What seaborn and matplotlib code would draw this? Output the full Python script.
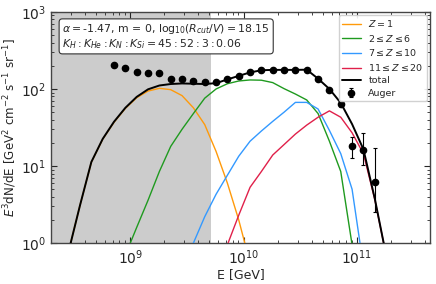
import numpy as np
import pandas as pd
import matplotlib
matplotlib.use("Agg")
import matplotlib.pyplot as plt
import seaborn as sns

# ---------------- data ----------------
auger_logE = [8.857, 8.957, 9.057, 9.157, 9.257, 9.357, 9.457, 9.557, 9.657, 9.757,
              9.857, 9.957, 10.057, 10.157, 10.257, 10.357, 10.457, 10.557, 10.657,
              10.757, 10.857, 10.957, 11.057, 11.157]
auger_flux = [207, 187, 165, 163, 160, 135, 134, 126, 122, 122,
              135, 149, 165, 177, 177, 177, 177, 178, 134,
              98, 63, 18.2, 16, 6.3]
auger_err_lo = [3, 3, 2, 2, 2, 2, 2, 2, 2, 2,
                2, 2, 2, 2, 2, 2, 3, 3, 3,
                4, 5, 5.6, 5.7, 3.8]
auger_err_hi = [3, 3, 2, 2, 2, 2, 2, 2, 2, 2,
                2, 2, 2, 2, 2, 2, 3, 3, 3,
                4, 5, 5.8, 10.6, 10.7]

model_logE = [8.457, 8.557, 8.657, 8.757, 8.857, 8.957, 9.057, 9.157, 9.257, 9.357,
              9.457, 9.557, 9.657, 9.757, 9.857, 9.957, 10.057, 10.157, 10.257, 10.357,
              10.457, 10.557, 10.657, 10.757, 10.857, 10.957, 11.057, 11.157, 11.257]
flux_Z1 = [0.79, 3.1, 11.2, 22.3, 37, 56, 77, 94, 102, 98,
           82, 57, 34.5, 15.5, 6.0, 2.0, 0.55, 0.1, 0.02, 0.01,
           0.01, 0.01, 0.01, 0.01, 0.01, 0.01, 0.01, 0.01, 0.01]
flux_Z2_6 = [0.01, 0.02, 0.05, 0.12, 0.3, 0.7, 1.6, 3.6, 8.5, 18,
             30, 48, 76, 100, 117, 127, 131, 130, 121, 101,
             86, 72, 48, 21, 8.5, 0.95, 0.05, 0.01, 0.01]
flux_Z7_10 = [0.01, 0.01, 0.01, 0.01, 0.02, 0.05, 0.1, 0.2, 0.3, 0.4,
              0.5, 1.0, 2.2, 4.3, 7.6, 13.4, 21, 28.5, 38, 50,
              67, 67, 55, 29, 14.5, 5.0, 0.5, 0.01, 0.01]
flux_Z11_20 = [0.01, 0.01, 0.01, 0.01, 0.01, 0.01, 0.01, 0.02, 0.05, 0.1,
               0.2, 0.3, 0.35, 0.45, 0.95, 2.3, 5.3, 8.5, 13.9, 19,
               26, 34, 43, 52, 43, 27, 14.5, 3.7, 0.7]
flux_total = [0.79, 3.1, 11.3, 22.5, 37.6, 57, 79, 99, 111, 116,
              118, 117, 116, 119, 133, 148, 164, 175, 177, 177,
              177, 178, 136, 100, 66, 35, 16.5, 3.8, 0.7]

labels = [r"$Z=1$", r"$2\leq Z\leq 6$", r"$7\leq Z\leq 10$", r"$11\leq Z\leq 20$", "total"]
colors = ["#ff9a0a", "#1f9a1f", "#3399ff", "#e0204a", "black"]
widths = [1.0, 1.0, 1.0, 1.0, 1.4]

# ---------------- figure ----------------
sns.set_style("ticks")
plt.rcParams["font.family"] = ["DejaVu Sans"]
plt.rcParams["mathtext.fontset"] = "dejavusans"

fig = plt.figure(figsize=(4.36, 2.84), dpi=100)
ax = fig.add_axes([0.117, 0.144, 0.869, 0.814])

xmin, xmax = 2.0e8, 4.4e11
ax.axvspan(xmin, 5.2e9, color="#cccccc", lw=0, zorder=0)

E_model = 10 ** np.array(model_logE)
series = [flux_Z1, flux_Z2_6, flux_Z7_10, flux_Z11_20, flux_total]
for ys, lab, col, lw in zip(series, labels, colors, widths):
    df = pd.DataFrame({"E": E_model, "flux": ys})
    sns.lineplot(data=df, x="E", y="flux", color=col, lw=lw, label=lab,
                 sort=False, estimator=None, ax=ax, zorder=3)

E_aug = 10 ** np.array(auger_logE)
ax.errorbar(E_aug, auger_flux, yerr=[auger_err_lo, auger_err_hi], fmt="o",
            color="black", ms=4.5, capsize=1.5, elinewidth=0.8, capthick=0.8,
            label="Auger", zorder=4)

ax.set_xscale("log")
ax.set_yscale("log")
ax.set_xlim(xmin, xmax)
ax.set_ylim(1, 1e3)
ax.set_xlabel("E [GeV]", fontsize=9, labelpad=1)
ax.set_ylabel(r"$E^3$dN/dE [GeV$^2$ cm$^{-2}$ s$^{-1}$ sr$^{-1}$]", fontsize=8.6, labelpad=1)
ax.tick_params(which="both", direction="in", top=True, right=True, labelsize=10)
ax.tick_params(which="major", length=4)
ax.tick_params(which="minor", length=2)
for s in ax.spines.values():
    s.set_color("#444444")
    s.set_linewidth(1.0)

ax.text(0.03, 0.955,
        r"$\alpha = $-1.47, m = 0, log$_{10}(R_{cut}/V) = 18.15$" + "\n" +
        r"$K_H : K_{He} : K_N : K_{Si} = 45 : 52 : 3 : 0.06$",
        transform=ax.transAxes, va="top", ha="left", fontsize=7.8, linespacing=1.05,
        bbox=dict(boxstyle="round,pad=0.3", fc="white", ec="#333333", lw=0.8),
        zorder=6)

ax.legend(loc="upper right", fontsize=6.8, frameon=True, edgecolor="#cccccc",
          framealpha=0.9, borderaxespad=0.3, handlelength=2.0, labelspacing=0.38,
          borderpad=0.35)

fig.savefig("out.png", dpi=100)
